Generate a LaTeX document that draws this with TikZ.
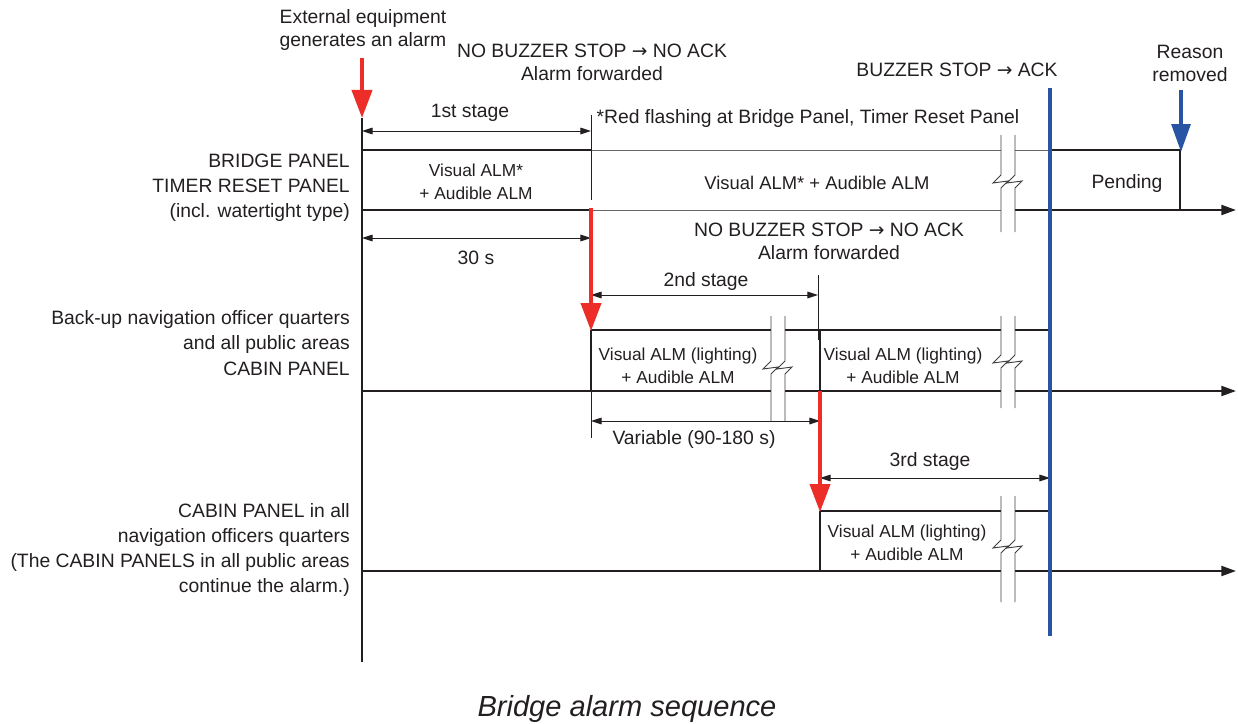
\documentclass[tikz,border=0pt]{standalone}
\usepackage{fontspec}
\setmainfont{Liberation Sans}
\newfontfamily\arrfont{DejaVu Sans}
\usetikzlibrary{arrows.meta}
\definecolor{alarmred}{RGB}{236,45,40}
\definecolor{ackblue}{RGB}{40,84,164}
\definecolor{ink}{RGB}{35,31,32}
\newcommand\rarr{{\arrfont\fontsize{14}{14}\selectfont →}}
\newcommand\brkmk[4]{%
  \fill[white] (#1,#2) rectangle (#1+14,#3);
  \foreach \dx in {0,14}{%
    \draw[brk] (#1+\dx,#2) -- (#1+\dx,#4-7) -- (#1+\dx-8,#4+1) -- (#1+\dx+7,#4-1) -- (#1+\dx,#4+6) -- (#1+\dx,#3);}}
\begin{document}
\begin{tikzpicture}[x=0.75pt,y=-0.75pt,
  txt/.style={font=\fontsize{14.5}{17.25}\selectfont, inner sep=0pt, align=center, text=ink},
  boxtxt/.style={font=\fontsize{13}{17.25}\selectfont, inner sep=0pt, align=center, text=ink},
  lbl/.style={font=\fontsize{14.5}{18.9}\selectfont, inner sep=0pt, align=right, anchor=east, text=ink},
  dim/.style={line width=0.7pt, draw=ink, {Triangle[length=8pt,width=5pt]}-{Triangle[length=8pt,width=5pt]}},
  thinl/.style={line width=0.6pt, draw=black!60},
  ext/.style={line width=0.7pt, draw=ink},
  boxl/.style={line width=1.5pt, draw=ink},
  axisl/.style={line width=1.5pt, draw=ink, -{Triangle[length=11pt,width=7.5pt]}},
  brk/.style={line width=0.7pt, draw=black!75},
  redarr/.style={line width=3pt, draw=alarmred, -{Triangle[length=21pt,width=15pt, fill=alarmred]}},
  bluarr/.style={line width=3pt, draw=ackblue, -{Triangle[length=21pt,width=14pt, fill=ackblue]}},
]
\useasboundingbox (0,0) rectangle (1238,724);

% named points
\coordinate (axTop) at (362,118);
\coordinate (axBot) at (362,662);
\coordinate (r1s) at (362,58);
\coordinate (r2s) at (591,208);
\coordinate (r2e) at (591,331);
\coordinate (r3s) at (820,391);
\coordinate (r3e) at (820,512);
\coordinate (bTop) at (1050,88);
\coordinate (bBot) at (1050,636);
\coordinate (b2s) at (1181,90);
\coordinate (b2e) at (1181,152);

% ---------- row 1: bridge panel ----------
\draw[thinl] (591,150) -- (1050,150);
\draw[thinl] (591,210) -- (1015,210);
\draw[boxl] (362,150) -- (591,150);
\draw[boxl] (362,210) -- (591,210);
\draw[boxl] (1050,150) -- (1180,150) -- (1180,210);
\draw[axisl] (1010,210) -- (1236,210);
\draw[ext] (591,115) -- (591,200);
\draw[dim] (362,131) -- (591,131);
\draw[dim] (362,238) -- (591,238);

% ---------- row 2 ----------
\draw[boxl] (591,330) -- (1050,330);
\draw[boxl] (591,330) -- (591,391);
\draw[boxl] (820,330) -- (820,391);
\draw[axisl] (362,391) -- (1236,391);
\draw[ext] (591,391) -- (591,438);
\draw[ext] (818,275) -- (818,340);
\draw[dim] (591,295) -- (818,295);
\draw[dim] (591,421) -- (820,421);

% ---------- row 3 ----------
\draw[boxl] (820,511) -- (1050,511);
\draw[boxl] (820,511) -- (820,571);
\draw[axisl] (362,571) -- (1236,571);
\draw[dim] (820,478) -- (1050,478);

% breaks
\brkmk{1001}{135}{232}{182}
\brkmk{771}{316}{421}{368}
\brkmk{1001}{316}{408}{362}
\brkmk{1001}{496}{602}{547}

% main axis
\draw[line width=1.8pt, draw=ink] (axTop) -- (axBot);

% red alarm arrows
\draw[redarr] (r1s) -- (axTop);
\draw[redarr] (r2s) -- (r2e);
\draw[redarr] (r3s) -- (r3e);

% blue ack line and arrow
\draw[line width=3pt, draw=ackblue] (bTop) -- (bBot);
\draw[bluarr] (b2s) -- (b2e);

% ---------- texts ----------
\node[txt] (extn) at (363,30) {External equipment\\generates an alarm};
\node[txt] (nb1) at (592,62) {NO BUZZER STOP \rarr{} NO ACK\\Alarm forwarded};
\node[txt] (bs) at (957,70) {BUZZER STOP \rarr{} ACK};
\node[txt] (rr) at (1190,63) {Reason\\removed};
\node[txt] (s1) at (470,113) {1st stage};
\node[txt] (rf) at (808,119) {*Red flashing at Bridge Panel, Timer Reset Panel};
\node[boxtxt] (v1) at (476,182) {Visual ALM*\\+ Audible ALM};
\node[txt, font=\fontsize{13.8}{17}\selectfont] (v1b) at (817,183) {Visual ALM* + Audible ALM};
\node[txt] (pend) at (1127,184) {Pending};
\node[txt] (t30) at (476,258) {30 s};
\node[txt] (nb2) at (829,241) {NO BUZZER STOP \rarr{} NO ACK\\Alarm forwarded};
\node[txt] (s2) at (706,281) {2nd stage};
\node[boxtxt] (v2a) at (678,366) {Visual ALM (lighting)\\+ Audible ALM};
\node[boxtxt] (v2b) at (903,366) {Visual ALM (lighting)\\+ Audible ALM};
\node[txt] (var) at (694,439) {Variable (90-180 s)};
\node[txt] (s3) at (930,461) {3rd stage};
\node[boxtxt] (v3) at (907,543) {Visual ALM (lighting)\\+ Audible ALM};

\node[lbl] (L1) at (350,188) {BRIDGE PANEL\\TIMER RESET PANEL\\(incl. watertight type)};
\node[lbl] (L2) at (350,343) {Back-up navigation officer quarters\\and all public areas\\CABIN PANEL};
\node[lbl] (L3) at (350,550) {CABIN PANEL in all\\navigation officers quarters\\(The CABIN PANELS in all public areas\\continue the alarm.)};

\node[font=\fontsize{21.8}{26}\selectfont\itshape, inner sep=0pt, text=ink] (cap) at (627,709) {Bridge alarm sequence};
\end{tikzpicture}
\end{document}
